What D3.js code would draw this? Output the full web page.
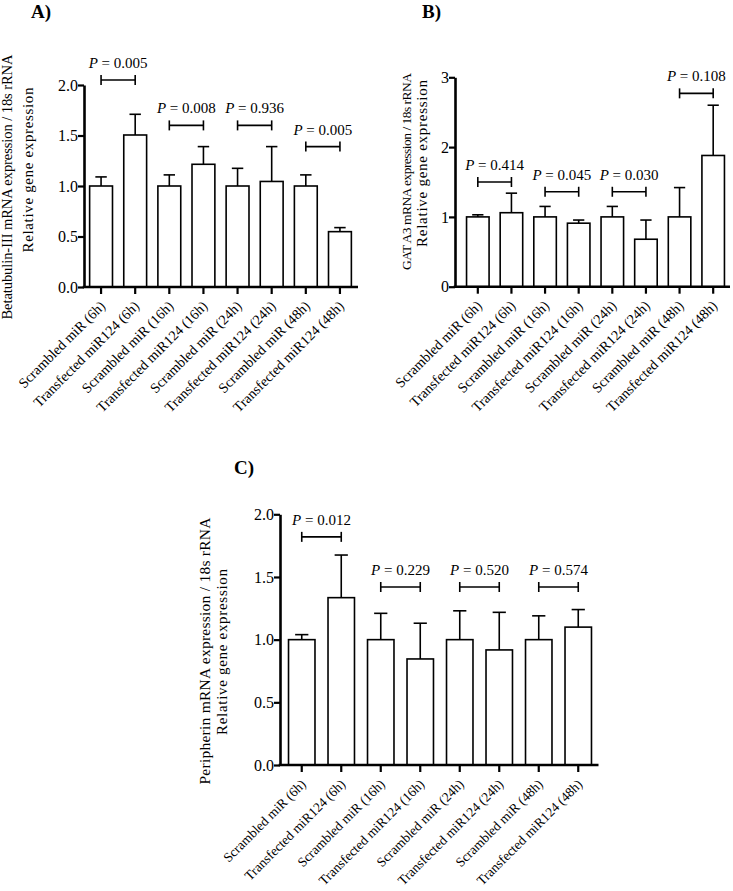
<!DOCTYPE html>
<html>
<head>
<meta charset="utf-8">
<script src="https://cdn.jsdelivr.net/npm/d3@7"></script>
<style>
  body { margin: 0; background: #fff; }
  svg { display: block; }
  svg text { font-family: "Liberation Serif", "Times New Roman", serif; fill: #000; }
</style>
</head>
<body>
<svg id="chart" width="733" height="891"></svg>
<script>
// ---------------- DATA ----------------
const categories = [
  "Scrambled miR (6h)", "Transfected miR124 (6h)",
  "Scrambled miR (16h)", "Transfected miR124 (16h)",
  "Scrambled miR (24h)", "Transfected miR124 (24h)",
  "Scrambled miR (48h)", "Transfected miR124 (48h)"
];

// Panel A: Betatubulin-III
const meanA = [1.00, 1.505, 1.00, 1.215, 1.00, 1.045, 1.00, 0.548];
const errA  = [0.09, 0.205, 0.11, 0.175, 0.175, 0.345, 0.11, 0.04];
const pA = ["0.005", "0.008", "0.936", "0.005"];
const bracketA = [2.05, 1.60, 1.60, 1.39];
const ticksA = [0, 0.5, 1.0, 1.5, 2.0];

// Panel B: GATA3
const meanB = [1.00, 1.06, 1.00, 0.91, 1.00, 0.68, 1.00, 1.88];
const errB  = [0.03, 0.28, 0.15, 0.045, 0.15, 0.275, 0.42, 0.72];
const pB = ["0.414", "0.045", "0.030", "0.108"];
const bracketB = [1.50, 1.36, 1.36, 2.77];
const ticksB = [0, 1, 2, 3];

// Panel C: Peripherin
const meanC = [1.00, 1.335, 1.00, 0.846, 1.00, 0.918, 1.00, 1.10];
const errC  = [0.04, 0.34, 0.21, 0.285, 0.23, 0.30, 0.19, 0.14];
const pC = ["0.012", "0.229", "0.520", "0.574"];
const bracketC = [1.82, 1.42, 1.42, 1.42];
const ticksC = [0, 0.5, 1.0, 1.5, 2.0];

const pairStarts = [0, 2, 4, 6];

// ---------------- DRAW ----------------
const svg = d3.select("#chart");
const SERIF = "'Liberation Serif', 'Times New Roman', serif";

function drawPanel(o) {
  const g = svg.append("g");
  const y = d3.scaleLinear().domain([0, o.yMax]).range([o.yBottom, o.yTop]);
  const x = d3.scaleBand().domain(categories).range([o.bandStart, o.bandEnd])
    .paddingInner(0.33).paddingOuter(0.165);
  const cx = c => x(c) + x.bandwidth() / 2;

  // bars
  g.selectAll("rect.bar").data(categories).join("rect")
    .attr("x", c => x(c))
    .attr("width", x.bandwidth())
    .attr("y", (c, i) => y(o.mean[i]))
    .attr("height", (c, i) => y(0) - y(o.mean[i]))
    .attr("fill", "#fff").attr("stroke", "#000").attr("stroke-width", 1.6);

  // error bars (upper)
  const capW = x.bandwidth() * 0.5;
  g.selectAll("line.err").data(categories).join("line")
    .attr("x1", cx).attr("x2", cx)
    .attr("y1", (c, i) => y(o.mean[i]))
    .attr("y2", (c, i) => y(o.mean[i] + o.err[i]))
    .attr("stroke", "#000").attr("stroke-width", 1.6);
  g.selectAll("line.cap").data(categories).join("line")
    .attr("x1", c => cx(c) - capW / 2).attr("x2", c => cx(c) + capW / 2)
    .attr("y1", (c, i) => y(o.mean[i] + o.err[i]))
    .attr("y2", (c, i) => y(o.mean[i] + o.err[i]))
    .attr("stroke", "#000").attr("stroke-width", 1.6);

  // y axis
  const ya = g.append("g").attr("transform", `translate(${o.axisX},0)`)
    .call(d3.axisLeft(y).tickValues(o.ticks).tickFormat(o.fmt).tickSize(6).tickSizeOuter(0));
  ya.attr("font-family", SERIF);
  ya.select(".domain").attr("stroke-width", 2.6);
  ya.selectAll(".tick line").attr("stroke-width", 2.2);
  ya.selectAll(".tick text").attr("font-size", 16).attr("x", -6)
    .attr("font-family", SERIF).attr("fill", "#000");

  // x axis
  g.append("line").attr("x1", o.axisX - 1.3).attr("x2", o.axisEnd)
    .attr("y1", y(0)).attr("y2", y(0)).attr("stroke", "#000").attr("stroke-width", 2.6);
  const xa = g.append("g").attr("transform", `translate(0,${y(0)})`)
    .call(d3.axisBottom(x).tickSize(7).tickSizeOuter(0));
  xa.attr("font-family", SERIF);
  xa.select(".domain").remove();
  xa.selectAll(".tick line").attr("stroke-width", 2.2);
  xa.selectAll(".tick text")
    .attr("font-size", o.xFont).attr("font-family", SERIF)
    .attr("fill", "#000").attr("text-anchor", "end")
    .attr("dy", null).attr("y", null)
    .attr("transform", "translate(5,20) rotate(-45)");

  // significance brackets
  pairStarts.forEach((s, k) => {
    const x1 = cx(categories[s]), x2 = cx(categories[s + 1]);
    const yy = y(o.bracket[k]);
    g.append("line").attr("x1", x1).attr("x2", x2).attr("y1", yy).attr("y2", yy)
      .attr("stroke", "#000").attr("stroke-width", 1.6);
    [x1, x2].forEach(xx => g.append("line").attr("x1", xx).attr("x2", xx)
      .attr("y1", yy - 5).attr("y2", yy + 5).attr("stroke", "#000").attr("stroke-width", 1.6));
    const t = g.append("text").attr("x", (x1 + x2) / 2).attr("y", yy - 12)
      .attr("text-anchor", "middle").attr("font-size", 15).attr("font-family", SERIF);
    t.append("tspan").attr("font-style", "italic").text("P");
    t.append("tspan").text(" = " + o.p[k]);
  });

  // y label (two lines)
  g.append("text")
    .attr("transform", `translate(${o.lab1X},${o.lab1Y}) rotate(-90)`)
    .attr("text-anchor", "middle").attr("font-size", o.lab1Size).attr("font-family", SERIF)
    .attr("textLength", o.lab1Len).attr("lengthAdjust", "spacing")
    .text(o.label1);
  g.append("text")
    .attr("transform", `translate(${o.lab2X},${o.lab2Y}) rotate(-90)`)
    .attr("text-anchor", "middle").attr("font-size", 15).attr("font-family", SERIF)
    .attr("textLength", o.lab2Len).attr("lengthAdjust", "spacing")
    .text(o.label2);

  // panel title
  svg.append("text").attr("x", o.titleX).attr("y", o.titleY).attr("font-family", SERIF)
    .attr("font-size", 19).attr("font-weight", "bold").text(o.title);
}

drawPanel({
  mean: meanA, err: errA, p: pA, bracket: bracketA, ticks: ticksA, yMax: 2,
  fmt: d3.format(".1f"), xFont: 14.2,
  axisX: 84, axisEnd: 358, yTop: 85, yBottom: 287, bandStart: 84, bandEnd: 357,
  label1: "Betatubulin-III mRNA expression / 18s rRNA", label2: "Relative gene expression",
  lab1X: 12, lab1Y: 187, lab1Len: 265, lab1Size: 14.5, lab2X: 32.5, lab2Y: 170, lab2Len: 165,
  title: "A)", titleX: 31, titleY: 18
});

drawPanel({
  mean: meanB, err: errB, p: pB, bracket: bracketB, ticks: ticksB, yMax: 3,
  fmt: d3.format("d"), xFont: 14.2,
  axisX: 455, axisEnd: 730, yTop: 77.3, yBottom: 286.7, bandStart: 461, bandEnd: 730,
  label1: "GAT A3 mRNA expression / 18s rRNA", label2: "Relative gene expression",
  lab1X: 411, lab1Y: 171.5, lab1Len: 197, lab1Size: 13.5, lab2X: 426.5, lab2Y: 163.5, lab2Len: 167,
  title: "B)", titleX: 422, titleY: 18
});

drawPanel({
  mean: meanC, err: errC, p: pC, bracket: bracketC, ticks: ticksC, yMax: 2,
  fmt: d3.format(".1f"), xFont: 13.5,
  axisX: 280, axisEnd: 598.5, yTop: 514.3, yBottom: 765, bandStart: 282, bandEnd: 598,
  label1: "Peripherin mRNA expression / 18s rRNA", label2: "Relative gene expression",
  lab1X: 210, lab1Y: 651, lab1Len: 267, lab1Size: 15.5, lab2X: 226.5, lab2Y: 652, lab2Len: 166,
  title: "C)", titleX: 234, titleY: 474
});
</script>
</body>
</html>
